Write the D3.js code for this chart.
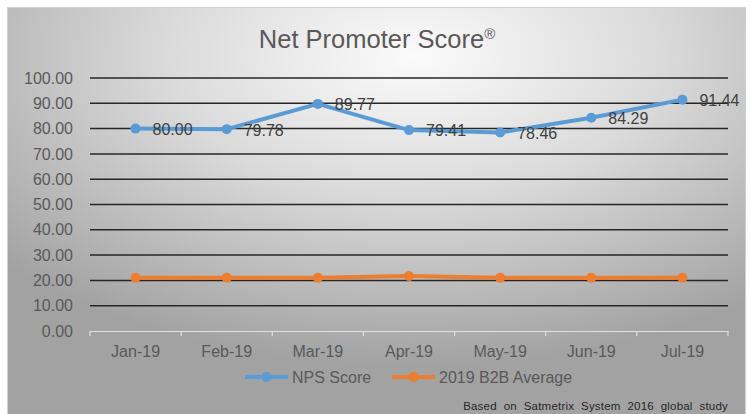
<!DOCTYPE html>
<html>
<head>
<meta charset="utf-8">
<script src="https://cdn.jsdelivr.net/npm/d3@7"></script>
<style>
  body { margin: 0; background: #ffffff; }
  text { font-family: "Liberation Sans", Arial, sans-serif; }
</style>
</head>
<body>
<div id="chart"></div>
<script>
const width = 750;
const height = 414;
const margin = { top: 78, right: 22, bottom: 83, left: 90 };

// data
const months = ["Jan-19", "Feb-19", "Mar-19", "Apr-19", "May-19", "Jun-19", "Jul-19"];
const npsScore = [80.00, 79.78, 89.77, 79.41, 78.46, 84.29, 91.44];
const b2bAverage = [21, 21, 21, 21.7, 21, 21, 21];
const yTicks = [0, 10, 20, 30, 40, 50, 60, 70, 80, 90, 100];

const svg = d3.select("#chart")
    .append("svg")
    .attr("width", width)
    .attr("height", height);

// Background gradient
const defs = svg.append("defs");
const grad = defs.append("radialGradient")
    .attr("id", "bg")
    .attr("cx", "55%").attr("cy", "12%")
    .attr("r", "75%");
grad.append("stop").attr("offset", "0%").attr("stop-color", "#fbfbfb");
grad.append("stop").attr("offset", "45%").attr("stop-color", "#dadada");
grad.append("stop").attr("offset", "100%").attr("stop-color", "#a2a2a2");

svg.append("rect")
    .attr("x", 7.5).attr("y", 7.5)
    .attr("width", 738).attr("height", 412)
    .attr("fill", "url(#bg)")
    .attr("stroke", "#d0d0d0");

// Scales
const x = d3.scaleBand()
    .domain(months)
    .range([margin.left, width - margin.right]);

const y = d3.scaleLinear()
    .domain([0, 100])
    .range([height - margin.bottom, margin.top]);

// Title
const title = svg.append("text")
    .attr("x", 377)
    .attr("y", 48)
    .attr("text-anchor", "middle")
    .attr("font-size", "25.5px")
    .attr("fill", "#595959");
title.append("tspan").text("Net Promoter Score");
title.append("tspan")
    .attr("font-size", "15px")
    .attr("dy", "-9")
    .text("®");

// Gridlines
svg.append("g")
    .selectAll("line")
    .data(yTicks.filter(d => d > 0))
    .enter()
    .append("line")
        .attr("x1", margin.left)
        .attr("x2", width - margin.right)
        .attr("y1", d => y(d))
        .attr("y2", d => y(d))
        .attr("stroke", "#262626")
        .attr("stroke-width", 1.5);

// Y axis
const yAxis = svg.append("g")
    .attr("transform", `translate(${margin.left}, 0)`)
    .call(d3.axisLeft(y).tickValues(yTicks).tickFormat(d3.format(".2f")).tickSize(0).tickPadding(17));
yAxis.select(".domain").remove();
yAxis.selectAll("text")
    .attr("font-size", "16px")
    .attr("fill", "#595959");

// X axis
const xAxis = svg.append("g")
    .attr("transform", `translate(0,${height - margin.bottom})`)
    .call(d3.axisBottom(x).tickSize(0).tickPadding(15));
xAxis.select(".domain").attr("stroke", "#e0e0e0").attr("stroke-width", 1.2);
xAxis.selectAll("text")
    .attr("font-size", "16px")
    .attr("fill", "#595959");
// category separator ticks
svg.append("g")
    .selectAll("line")
    .data(months.concat(["end"]))
    .enter()
    .append("line")
        .attr("x1", (d, i) => i < months.length ? x(d) : width - margin.right)
        .attr("x2", (d, i) => i < months.length ? x(d) : width - margin.right)
        .attr("y1", height - margin.bottom)
        .attr("y2", height - margin.bottom + 5)
        .attr("stroke", "#e0e0e0")
        .attr("stroke-width", 1.2);

const cx = (d, i) => x(months[i]) + x.bandwidth() / 2;

const line = d3.line()
    .x(cx)
    .y(d => y(d));

function drawSeries(values, color) {
    svg.append("path")
        .datum(values)
        .attr("fill", "none")
        .attr("stroke", color)
        .attr("stroke-width", 4)
        .attr("stroke-linejoin", "round")
        .attr("d", line);
    svg.append("g")
        .selectAll("circle")
        .data(values)
        .enter()
        .append("circle")
            .attr("cx", cx)
            .attr("cy", d => y(d))
            .attr("r", 5)
            .attr("fill", color);
}

drawSeries(b2bAverage, "#ed7d31");
drawSeries(npsScore, "#5b9bd5");

// Data labels for NPS
svg.append("g")
    .selectAll("text")
    .data(npsScore)
    .enter()
    .append("text")
        .attr("x", (d, i) => cx(d, i) + 17)
        .attr("y", d => y(d))
        .attr("dy", "0.4em")
        .attr("font-size", "16px")
        .attr("fill", "#404040")
        .text(d => d3.format(".2f")(d));

// Legend
const legend = [
    { name: "NPS Score", color: "#5b9bd5", x: 245 },
    { name: "2019 B2B Average", color: "#ed7d31", x: 392 }
];
const lg = svg.append("g")
    .selectAll("g")
    .data(legend)
    .enter()
    .append("g")
        .attr("transform", d => `translate(${d.x},377)`);
lg.append("line")
    .attr("x1", 0).attr("x2", 43)
    .attr("stroke", d => d.color)
    .attr("stroke-width", 4);
lg.append("circle")
    .attr("cx", 21.5).attr("r", 5)
    .attr("fill", d => d.color);
lg.append("text")
    .attr("x", 47)
    .attr("dy", "0.36em")
    .attr("font-size", "16px")
    .attr("fill", "#595959")
    .text(d => d.name);

// Footnote
svg.append("text")
    .attr("x", 728)
    .attr("y", 410)
    .attr("text-anchor", "end")
    .attr("font-size", "11.5px")
    .attr("letter-spacing", "0.2px")
    .attr("word-spacing", "3.5px")
    .attr("fill", "#262626")
    .text("Based on Satmetrix System 2016 global study");
</script>
</body>
</html>
